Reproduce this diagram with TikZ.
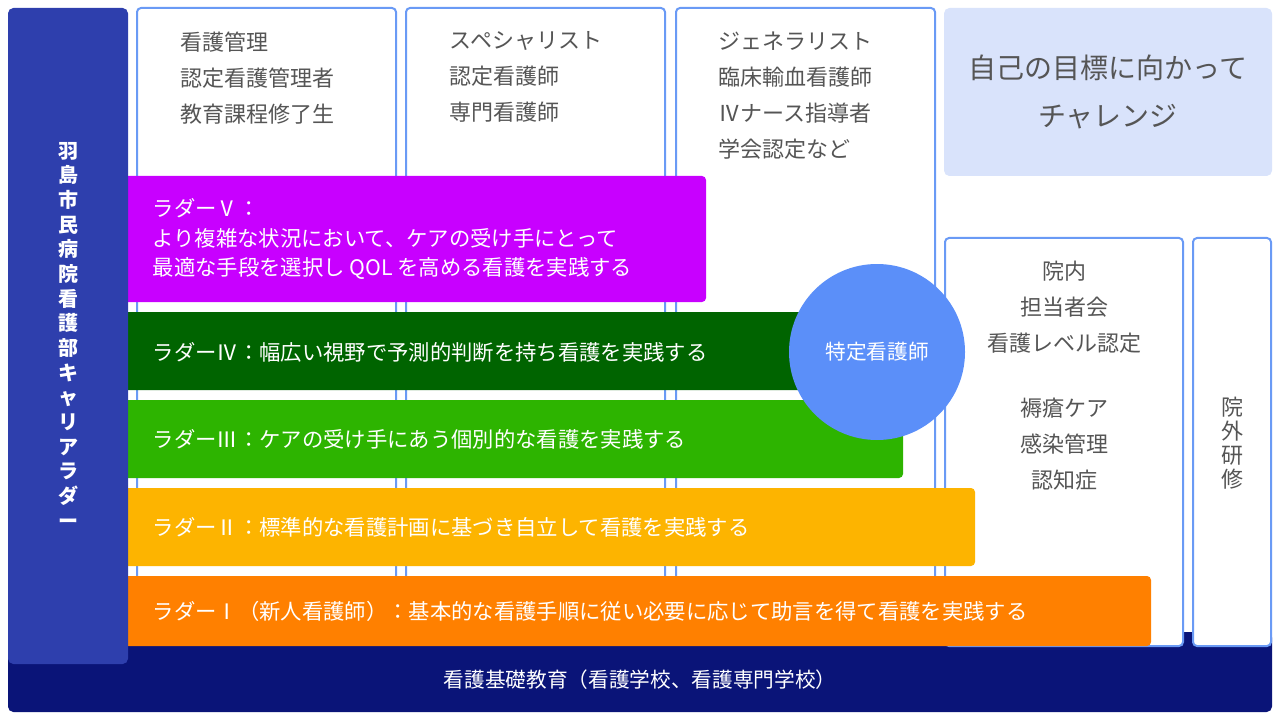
\documentclass[tikz,border=0pt]{standalone}
\usepackage{fontspec}
\setmainfont{Noto Sans CJK JP}
\definecolor{navy}{HTML}{0A1478}
\definecolor{ladderbar}{HTML}{2E3FAD}
\definecolor{colline}{HTML}{6A9AF5}
\definecolor{lightblue}{HTML}{D9E3FB}
\definecolor{txtgray}{HTML}{555555}
\definecolor{lvfive}{HTML}{C800FF}
\definecolor{lvfour}{HTML}{006400}
\definecolor{lvthree}{HTML}{2DB400}
\definecolor{lvtwo}{HTML}{FDB400}
\definecolor{lvone}{HTML}{FF8000}
\definecolor{circ}{HTML}{5B8FF9}
\tikzset{
  colbox/.style={draw=colline, line width=1.5pt, fill=white, rounded corners=3pt},
  barbox/.style={rounded corners=3pt},
  coltext/.style={text=txtgray, font=\fontsize{16.5}{27}\selectfont, align=left, anchor=north west},
  bartext/.style={text=white, font=\fontsize{16}{22}\selectfont, align=left, anchor=west},
}
\begin{document}
\begin{tikzpicture}[x=0.75pt, y=-0.75pt]
\useasboundingbox (0,0) rectangle (1280,720);

% base
\fill[navy, rounded corners=4pt] (8,632) rectangle (1272,712);
\node[text=white, font=\fontsize{15.5}{20}\selectfont] (base) at (640,680) {看護基礎教育（看護学校、看護専門学校）};

% columns
\draw[colbox] (137,8) rectangle (396,640);
\draw[colbox] (406,8) rectangle (665,640);
\draw[colbox] (676,8) rectangle (935,640);
\node[coltext] (mgmt) at (176,27) {看護管理\\認定看護管理者\\教育課程修了生};
\node[coltext] (spec) at (445,27) {スペシャリスト\\認定看護師\\専門看護師};
\node[coltext] (gen) at (714,27) {ジェネラリスト\\臨床輸血看護師\\Ⅳナース指導者\\学会認定など};

% right side
\fill[lightblue, rounded corners=4pt] (944,8) rectangle (1272,176);
\node[text=txtgray, font=\fontsize{21}{36}\selectfont, align=center] (goal) at (1108,92) {自己の目標に向かって\\チャレンジ};
\draw[colbox] (945,238) rectangle (1183,646);
\node[text=txtgray, font=\fontsize{16.5}{27}\selectfont, align=center, anchor=north] (inner) at (1064,256)
  {院内\\担当者会\\看護レベル認定\\[22pt]褥瘡ケア\\感染管理\\認知症};
\draw[colbox] (1193,238) rectangle (1271,646);
\node[text=txtgray, font=\fontsize{16.5}{18}\selectfont, align=center] (outer) at (1232,443) {院\\外\\研\\修};

% ladders
\fill[lvone, barbox] (120,576) rectangle (1151,646);
\fill[lvtwo, barbox] (120,488) rectangle (975,566);
\fill[lvthree, barbox] (120,400) rectangle (903,478);
\fill[lvfour, barbox] (120,312) rectangle (836,390);
\fill[lvfive, barbox] (120,176) rectangle (706,302);
\node[bartext] (l1) at (148,611) {ラダーⅠ（新人看護師）：基本的な看護手順に従い必要に応じて助言を得て看護を実践する};
\node[bartext] (l2) at (148,527) {ラダーⅡ：標準的な看護計画に基づき自立して看護を実践する};
\node[bartext] (l3) at (148,439) {ラダーⅢ：ケアの受け手にあう個別的な看護を実践する};
\node[bartext] (l4) at (148,352) {ラダーⅣ：幅広い視野で予測的判断を持ち看護を実践する};
\node[bartext] (l5) at (148,239) {ラダーⅤ：\\より複雑な状況において、ケアの受け手にとって\\最適な手段を選択し QOL を高める看護を実践する};

\fill[circ] (877,352) circle (88);
\node[text=white, font=\fontsize{15.5}{20}\selectfont] (tokutei) at (877,352) {特定看護師};

% side bar
\fill[ladderbar, rounded corners=4pt] (8,8) rectangle (128,664);
\node[text=white, font=\fontsize{15}{18.5}\bfseries\selectfont, align=center] (title) at (68,335)
  {羽\\島\\市\\民\\病\\院\\看\\護\\部\\キ\\ャ\\リ\\ア\\ラ\\ダ\\ー};
\end{tikzpicture}
\end{document}
